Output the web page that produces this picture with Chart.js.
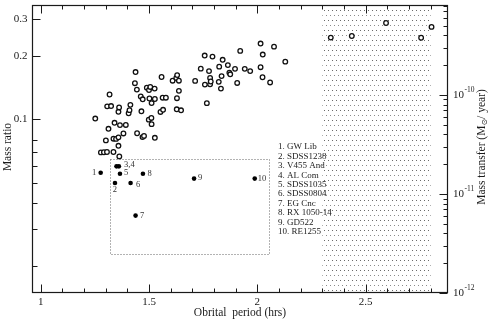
<!DOCTYPE html>
<html><head><meta charset="utf-8">
<script src="https://cdn.jsdelivr.net/npm/chart.js@4/dist/chart.umd.min.js"></script>
<style>html,body{margin:0;padding:0;background:#fff;}canvas{display:block;}</style>
</head><body>
<canvas id="c" width="491" height="321"></canvas>
<script>
// Mass ratio sample (open circles)
const qPeriod = [1.252,1.278,1.292,1.306,1.336,1.363,1.301,1.313,1.318,1.307,
  1.325,1.336,1.348,1.359,1.341,1.359,1.366,1.359,1.362,1.382,
  1.393,1.406,1.410,1.414,1.435,1.438,1.444,1.445,1.462,1.465,
  1.471,1.470,1.477,1.490,1.500,1.506,1.502,1.512,1.499,1.511,
  1.512,1.526,1.527,1.527,1.553,1.558,1.563,1.565,1.578,1.609,
  1.626,1.630,1.629,1.628,1.638,1.638,1.648,1.713,1.739,1.757,
  1.758,1.767,1.777,1.782,1.782,1.785,1.793,1.822,1.824,1.832,
  1.835,1.840,1.864,1.871,1.875,1.897,1.907,1.921,1.942,1.967,
  2.015,2.025,2.015,2.024,2.059,2.077,2.129,2.339,2.436,2.594,
  2.756,2.804];
const qRatio = [0.101,0.0697,0.0698,0.070,0.070,0.0667,0.0795,0.0903,0.1315,0.1155,
  0.1159,0.081,0.0808,0.0822,0.0964,0.0749,0.094,0.1088,0.1142,0.0858,
  0.0942,0.1071,0.1108,0.1174,0.1489,0.1683,0.1388,0.086,0.1287,0.1094,
  0.1248,0.0824,0.0835,0.1418,0.1381,0.1429,0.1259,0.1197,0.0998,0.1017,
  0.095,0.1403,0.1252,0.0818,0.1086,0.1594,0.127,0.1112,0.127,0.153,
  0.1577,0.1627,0.1263,0.1118,0.153,0.1369,0.1106,0.1527,0.1747,0.2017,
  0.1466,0.1196,0.17,0.1576,0.147,0.1517,0.1993,0.1511,0.1785,0.1403,
  0.161,0.1925,0.1816,0.1672,0.1642,0.1743,0.1493,0.2122,0.1743,0.17,
  0.2301,0.2039,0.1775,0.1589,0.1501,0.2223,0.1886,0.2456,0.2499,0.2883,
  0.2451,0.2761];

// Mass transfer of the numbered systems (filled dots, right axis)
const wdPeriod = [1.277,1.343,1.350,1.361,1.366,1.415,1.438,1.472,1.708,1.988];
const wdRate = [1.64e-11,1.29e-11,1.90e-11,1.90e-11,1.60e-11,1.29e-11,6.05e-12,1.60e-11,1.43e-11,1.43e-11];
const wdTags = ['1','2','3,4','','5','6','7','8','9','10'];
const wdNames = ['1. GW Lib','2. SDSS1238','3. V455 And','4. AL Com','5. SDSS1035','6. SDSS0804','7. EG Cnc','8. RX 1050-14','9. GD522','10. RE1255'];

// Dotted box and period-gap band
const boxPeriod = [1.321, 2.054];
const boxRate = [2.5e-12, 2.26e-11];
const gapPeriod = [2.3, 2.8];

// Ticks
const xMajorTicks = [1, 1.5, 2, 2.5];
const xTickLabels = ['1', '1.5', '2', '2.5'];
const xMinorTicks = [1.1,1.2,1.3,1.4,1.6,1.7,1.8,1.9,2.1,2.2,2.3,2.4,2.6,2.7,2.8];
const yMajorTicks = [0.1, 0.2, 0.3];
const yTickLabels = ['0.1', '0.2', '0.3'];
const yMinorTicks = [0.02,0.03,0.04,0.05,0.06,0.07,0.08];
const y2MajorTicks = [1e-12, 1e-11, 1e-10];
const y2TickExponents = ['-12', '-11', '-10'];
const y2MinorTicks = [2e-12,3e-12,4e-12,5e-12,6e-12,7e-12,8e-12,9e-12,
  2e-11,3e-11,4e-11,5e-11,6e-11,7e-11,8e-11,9e-11,
  2e-10,3e-10,4e-10,5e-10,6e-10,7e-10,8e-10];

const xTitle = 'Obrital  period (hrs)';
const yTitle = 'Mass ratio';
const y2TitleParts = ['Mass transfer (M', '\u2299', '/ year)'];

// styles
const SERIF = '"Liberation Serif", "Times New Roman", serif';
const tagStyle = [
  {dx:-4.5, dy:0, align:'right'},
  {dx:0, dy:7, align:'center'},
  {dx:7.5, dy:-1.5, align:'left'},
  null,
  {dx:4, dy:-0.5, align:'left'},
  {dx:5.5, dy:2, align:'left'},
  {dx:4.5, dy:0.5, align:'left'},
  {dx:4.5, dy:0, align:'left'},
  {dx:4, dy:-1, align:'left'},
  {dx:3, dy:0, align:'left'}
];

const gapPattern = (() => {
  const p = document.createElement('canvas'); p.width = 8; p.height = 10;
  const g = p.getContext('2d');
  g.fillStyle = '#fff'; g.fillRect(0,0,8,10);
  g.fillStyle = '#6a6a6a'; g.fillRect(0,0,1,1); g.fillRect(4,0,1,1);
  g.fillStyle = '#8a8a8a'; g.fillRect(2,5,1,1); g.fillRect(6,5,1,1);
  return p;
})();

const decor = {
  id: 'decor',
  beforeDatasetsDraw(chart) {
    const ctx = chart.ctx, a = chart.chartArea, sx = chart.scales.x, s2 = chart.scales.y2;
    ctx.save();
    const gx0 = sx.getPixelForValue(gapPeriod[0]), gx1 = sx.getPixelForValue(gapPeriod[1]);
    ctx.fillStyle = ctx.createPattern(gapPattern, 'repeat');
    ctx.fillRect(gx0, a.top, gx1 - gx0, a.bottom - a.top);
    // dotted box
    const bx0 = Math.round(sx.getPixelForValue(boxPeriod[0])) + 0.5;
    const bx1 = Math.round(sx.getPixelForValue(boxPeriod[1])) + 0.5;
    const by0 = Math.round(s2.getPixelForValue(boxRate[0])) + 0.5;
    const by1 = Math.round(s2.getPixelForValue(boxRate[1])) + 0.5;
    ctx.strokeStyle = '#666'; ctx.lineWidth = 1; ctx.setLineDash([1, 2]);
    ctx.strokeRect(bx0, by1, bx1 - bx0, by0 - by1);
    ctx.restore();
  },
  afterDatasetsDraw(chart) {
    const ctx = chart.ctx, a = chart.chartArea;
    const sx = chart.scales.x, sy = chart.scales.y, s2 = chart.scales.y2;
    ctx.save();
    ctx.strokeStyle = '#1a1a1a'; ctx.lineWidth = 1;
    const L = Math.round(a.left) + 0.5, R = Math.round(a.right) - 0.5;
    const T = Math.round(a.top) + 0.5, B = Math.round(a.bottom) - 0.5;
    ctx.beginPath();
    const seg = (x0,y0,x1,y1) => { ctx.moveTo(x0,y0); ctx.lineTo(x1,y1); };
    xMajorTicks.forEach(v => { const p = Math.round(sx.getPixelForValue(v)) + 0.5; seg(p,B,p,B-8); seg(p,T,p,T+8); });
    xMinorTicks.forEach(v => { const p = Math.round(sx.getPixelForValue(v)) + 0.5; seg(p,B,p,B-4); seg(p,T,p,T+4); });
    yMajorTicks.forEach(v => { const p = Math.round(sy.getPixelForValue(v)) + 0.5; seg(L,p,L+8,p); });
    yMinorTicks.forEach(v => { const p = Math.round(sy.getPixelForValue(v)) + 0.5; seg(L,p,L+5,p); });
    y2MajorTicks.forEach(v => { const p = Math.round(s2.getPixelForValue(v)) + 0.5; seg(R,p,R-8,p); });
    y2MinorTicks.forEach(v => { const p = Math.round(s2.getPixelForValue(v)) + 0.5; seg(R,p,R-4,p); });
    ctx.stroke();
    // frame
    ctx.lineWidth = 1.2;
    ctx.strokeRect(L, T, R - L, B - T);

    ctx.fillStyle = '#1a1a1a';
    ctx.font = '11px ' + SERIF;
    ctx.textBaseline = 'middle';
    ctx.textAlign = 'center';
    xMajorTicks.forEach((v,i) => ctx.fillText(xTickLabels[i], sx.getPixelForValue(v), a.bottom + 9));
    ctx.textAlign = 'right';
    yMajorTicks.forEach((v,i) => ctx.fillText(yTickLabels[i], 27.5, sy.getPixelForValue(v)));
    ctx.textAlign = 'left';
    y2MajorTicks.forEach((v,i) => {
      const p = s2.getPixelForValue(v);
      ctx.font = '11px ' + SERIF;
      ctx.fillText('10', a.right + 5, p);
      const w = ctx.measureText('10').width;
      ctx.font = '7.5px ' + SERIF;
      ctx.fillText(y2TickExponents[i], a.right + 5 + w + 0.5, p - 5);
    });
    // axis titles
    ctx.font = '11.5px ' + SERIF;
    ctx.textAlign = 'center';
    ctx.fillText(xTitle, (a.left + a.right) / 2, 313);
    ctx.save(); ctx.translate(7.5, 147); ctx.rotate(-Math.PI/2);
    ctx.fillText(yTitle, 0, 0); ctx.restore();
    ctx.save(); ctx.translate(482, 147); ctx.rotate(-Math.PI/2);
    ctx.textAlign = 'left';
    const fonts = ['11.5px ' + SERIF, '8px "DejaVu Sans", sans-serif', '11.5px ' + SERIF];
    const dys = [0, 2.5, 0];
    let tot = 0; const ws = [];
    y2TitleParts.forEach((t,i) => { ctx.font = fonts[i]; const w = ctx.measureText(t).width; ws.push(w); tot += w; });
    let cx = -tot / 2;
    y2TitleParts.forEach((t,i) => { ctx.font = fonts[i]; ctx.fillText(t, cx, dys[i]); cx += ws[i]; });
    ctx.restore();

    // tags for numbered systems
    ctx.font = '8.5px ' + SERIF;
    ctx.fillStyle = '#333';
    wdPeriod.forEach((x,i) => {
      const st = tagStyle[i]; if (!st || !wdTags[i]) return;
      ctx.textAlign = st.align;
      ctx.fillText(wdTags[i], sx.getPixelForValue(x) + st.dx, s2.getPixelForValue(wdRate[i]) + st.dy);
    });
    // legend list
    ctx.font = '9px ' + SERIF;
    ctx.textAlign = 'left';
    ctx.fillStyle = '#222';
    wdNames.forEach((t,i) => ctx.fillText(t, 278, 147 + 9.4 * i));
    ctx.restore();
  }
};

new Chart(document.getElementById('c'), {
  type: 'scatter',
  data: {
    datasets: [
      { label: 'Mass ratio', data: qPeriod.map((x,i) => ({x, y: qRatio[i]})), yAxisID: 'y',
        pointRadius: 2.3, pointBorderWidth: 1.3, pointBorderColor: '#111', pointBackgroundColor: '#fff' },
      { label: 'Mass transfer', data: wdPeriod.map((x,i) => ({x, y: wdRate[i]})), yAxisID: 'y2',
        pointRadius: 2.3, pointBorderWidth: 0, pointBorderColor: '#000', pointBackgroundColor: '#000' }
    ]
  },
  options: {
    responsive: false, animation: false, devicePixelRatio: 1,
    layout: { padding: { left: 32, top: 1, right: 43, bottom: 28 } },
    plugins: { legend: { display: false }, tooltip: { enabled: false } },
    scales: {
      x: { type: 'linear', min: 0.96, max: 2.88, display: false },
      y: { type: 'logarithmic', min: 0.0149, max: 0.35, display: false },
      y2: { type: 'logarithmic', position: 'right', min: 1e-12, max: 8.04e-10, display: false }
    }
  },
  plugins: [decor]
});
</script>
</body></html>
